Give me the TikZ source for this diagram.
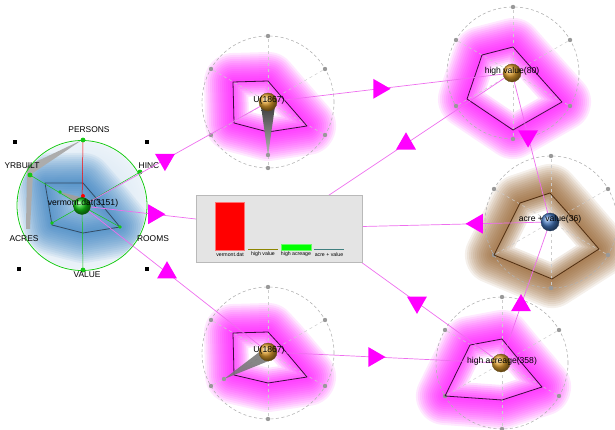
\documentclass[tikz,border=0pt]{standalone}
\usepackage{fontspec}
\setmainfont{Liberation Sans}
\usetikzlibrary{shapes.geometric,calc}
\pgfdeclarelayer{back}\pgfdeclarelayer{front}
\pgfsetlayers{back,main,front}
\definecolor{connc}{RGB}{238,110,238}
\definecolor{mag}{RGB}{255,0,255}
\definecolor{halob}{RGB}{40,120,190}
\definecolor{brownglow}{RGB}{140,85,30}
\definecolor{chartbg}{RGB}{228,228,228}
\definecolor{goldc}{RGB}{225,160,45}
\definecolor{bluec}{RGB}{70,120,190}
\definecolor{greenc}{RGB}{20,200,20}
\definecolor{pinkout}{RGB}{60,10,60}
\definecolor{brownout}{RGB}{80,45,15}
\definecolor{slateout}{RGB}{50,75,100}
% #1 glow colour, #2 interior colour, #3 polygon path
\newcommand\glowpoly[3]{%
  \foreach \w in {58,54,...,4} {\draw[#1, line width=\w pt, opacity=0.09, line join=round] #3;}
  \fill[#2] #3;
  \begin{scope}\clip #3;
    \foreach \w in {30,26,...,2} {\draw[#1, line width=\w pt, opacity=0.12, line join=round] #3;}
  \end{scope}}
\newcommand\dashframe[2]{%
  \begin{scope}[shift={(#1,#2)}]
    \draw[gray!60, line width=0.6pt, dash pattern=on 3pt off 2.5pt] (0,0) circle (66pt);
    \foreach \p in {(0,-66),(57,-33),(57,33),(0,66),(-57,33),(-57,-33)} {
      \draw[gray!40, line width=0.5pt, dash pattern=on 3pt off 3pt] (0,0) -- \p;
      \fill[gray!80] \p circle (2.2pt);}
  \end{scope}}
\begin{document}
\begin{tikzpicture}[x=1pt,y=-1pt,
  sphere/.style={circle, inner sep=0pt, minimum size=18pt, ball color=#1, draw=#1!45!black, line width=0.3pt},
  tri/.style={regular polygon, regular polygon sides=3, fill=mag, draw=none, inner sep=0pt, minimum size=23pt},
  connline/.style={draw=connc, line width=0.7pt},
  lbl/.style={font=\fontsize{8.6}{10}\selectfont, inner sep=0pt},
  axl/.style={font=\fontsize{8.4}{10}\selectfont, inner sep=0pt},
  tinyl/.style={font=\fontsize{5.2}{6}\selectfont, inner sep=0pt},
  handle/.style={fill=black, minimum size=4pt, inner sep=0pt}]
\useasboundingbox (0,0) rectangle (615,430);

% ---------- front layer: spheres, chart ----------
\begin{pgfonlayer}{front}
  \node[sphere=greenc, minimum size=17pt] (A) at (82,206) {};
  \node[sphere=goldc] (B) at (268,102) {};
  \node[sphere=goldc] (C) at (268,352) {};
  \node[sphere=goldc] (D) at (512,73) {};
  \node[sphere=bluec] (E) at (550,222) {};
  \node[sphere=goldc] (F) at (501,363) {};
  \node[lbl] at (83,203) {vermont.dat(3151)};
  \node[lbl] at (269,100) {U(1867)};
  \node[lbl] at (269,350) {U(1867)};
  \node[lbl] at (512,71) {high value(80)};
  \node[lbl] at (550,219) {acre + value(36)};
  \node[lbl] at (502,361) {high acreage(358)};
  % chart
  \node[draw=gray!55, fill=chartbg, minimum width=166pt, minimum height=67pt, inner sep=0pt, line width=0.6pt] (chart) at (279,228.5) {};
  \fill[red, draw=red!55] (215,202) rectangle (244,250);
  \draw[olive, line width=0.8pt] (248,249.5) -- (278,249.5);
  \fill[green, draw=green!60] (281,244) rectangle (311,250);
  \draw[teal!50!gray, line width=0.8pt] (314,249.5) -- (344,249.5);
  \node[tinyl] at (230,254.5) {vermont.dat};
  \node[tinyl] at (263,254.5) {high value};
  \node[tinyl] at (296,254.5) {high acreage};
  \node[tinyl] at (329,254.5) {acre + value};
\end{pgfonlayer}
\coordinate (chartF) at (300,218);

% ---------- connectors ----------
\draw[connline] (B.center) -- node[tri,pos=.554,rotate=180]{} (A.center);
\draw[connline] (A.center) -- node[tri,pos=.365,rotate=-90]{} (chart.center);
\draw[connline] (C.center) -- node[tri,pos=.543]{} (A.center);
\draw[connline] (B.center) -- node[tri,pos=.455,rotate=-90]{} (D.center);
\draw[connline] (chart.center) -- node[tri,pos=.545]{} (D.center);
\draw[connline] (chartF) -- node[tri,pos=.582,rotate=180]{} (F.center);
\draw[connline] (E.center) -- node[tri,pos=.269,rotate=90]{} (chart.center);
\draw[connline] (C.center) -- node[tri,pos=.455,rotate=-90]{} (F.center);
\draw[connline] (D.center) -- node[tri,pos=.423,rotate=180]{} (E.center);
\draw[connline] (F.center) -- node[tri,pos=.408]{} (E.center);

% ---------- back layer: glyphs ----------
\begin{pgfonlayer}{back}
  % glyph A (vermont)
  \begin{scope}
    \clip (82,205.5) circle (64pt);
    \shade[inner color=halob!25, outer color=white] (82,206) circle (100pt);
    \foreach \w in {60,56,...,4} {\draw[halob, line width=\w pt, opacity=0.07, line join=round] (45,183)--(83,183)--(96,198)--(120,227)--(83,233)--(52,225)--cycle;}
  \end{scope}
  \fill[gray!65] (26,229) -- (27,166) -- (82,140) -- (33,173) -- (30,229) -- cycle;
  \fill[gray!75] (60,192) -- (84,198) -- (78,205) -- cycle;
  \draw[slateout, line width=0.8pt, line join=round] (45,183)--(83,183)--(96,198)--(120,227)--(83,233)--(52,225)--cycle;
  \draw[greenc, line width=0.8pt] (82,205.5) circle (65pt);
  \foreach \p in {(140,172),(30,175),(52,223),(120,227),(83,270)} {\draw[greenc, line width=0.5pt] (82,206) -- \p;}
  \draw[red, line width=0.5pt] (82,206) -- (83,141);
  \foreach \p in {(140,172),(30,175),(83,140),(83,270)} {\fill[greenc] \p circle (2.4pt);}
  \foreach \p in {(52,223),(120,227),(60,192)} {\fill[greenc] \p circle (1.8pt);}
  \fill[red] (83,196) circle (2pt);
  \node[handle] at (15,142) {};
  \node[handle] at (147,142) {};
  \node[handle] at (19,269) {};
  \node[handle] at (147,269) {};
  \node[axl] at (89,130) {PERSONS};
  \node[axl] at (149,166) {HINC};
  \node[axl] at (153,239) {ROOMS};
  \node[axl] at (87,275) {VALUE};
  \node[axl] at (24,239) {ACRES};
  \node[axl] at (22,166) {YRBUILT};

  % glyph B
  \glowpoly{mag}{white}{(233,82)--(268,81)--(280,95)--(307,126)--(268,132)--(234,123)--cycle}
  \dashframe{268}{102}
  \draw[pinkout, line width=0.8pt, line join=round] (233,82)--(268,81)--(280,95)--(307,126)--(268,132)--(234,123)--cycle;
  \shade[top color=black!75, bottom color=gray!55] (261,106) -- (275,106) -- (268,156) -- cycle;
  \fill[gray!80] (268,155) circle (2.2pt);

  % glyph C
  \glowpoly{mag}{white}{(233,333)--(268,332)--(280,345)--(307,377)--(268,383)--(234,375)--cycle}
  \dashframe{268}{353}
  \draw[pinkout, line width=0.8pt, line join=round] (233,333)--(268,332)--(280,345)--(307,377)--(268,383)--(234,375)--cycle;
  \fill[black!55, opacity=0.85] (224,379) -- (262,350) -- (271,360) -- cycle;
  \fill[gray!80] (224,379) circle (2.2pt);

  % glyph D
  \glowpoly{mag}{white}{(482,55)--(513,47)--(528,64)--(562,102)--(513,130)--(467,99)--cycle}
  \dashframe{513}{73}
  \draw[pinkout, line width=0.8pt, line join=round] (482,55)--(513,47)--(528,64)--(562,102)--(513,130)--(467,99)--cycle;

  % glyph E
  \glowpoly{brownglow}{white}{(520,203)--(550,193)--(567,212)--(599,249)--(552,279)--(494,255)--cycle}
  \dashframe{551}{222}
  \draw[brownout, line width=0.8pt, line join=round] (520,203)--(550,193)--(567,212)--(599,249)--(552,279)--(494,255)--cycle;

  % glyph F
  \glowpoly{mag}{white}{(470,345)--(502,339)--(515,355)--(542,387)--(502,400)--(445,396)--cycle}
  \dashframe{502}{363}
  \draw[pinkout, line width=0.8pt, line join=round] (470,345)--(502,339)--(515,355)--(542,387)--(502,400)--(445,396)--cycle;
\end{pgfonlayer}
\end{tikzpicture}
\end{document}
